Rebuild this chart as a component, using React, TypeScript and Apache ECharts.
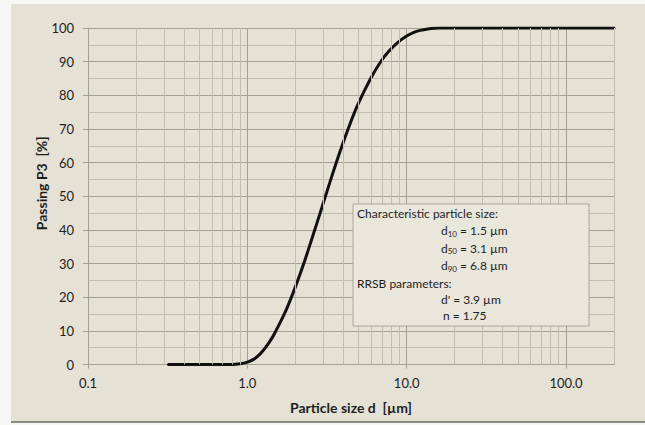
import React, { useEffect, useRef } from "react";
import * as echarts from "echarts";

// Particle size d [µm] and cumulative passing P3 [%]
const particleSizes = [0.32, 0.6, 0.8, 0.9, 1.0, 1.1, 1.2, 1.3, 1.43, 1.5, 1.69, 1.8, 2.0, 2.26, 2.55, 2.88, 3.1, 3.33, 3.85, 4.45, 5.0, 5.94, 6.85, 7.7, 8.73, 10, 11.1, 12.5, 14.2, 16, 20, 50, 100, 200];
const passing = [0, 0, 0, 0.2, 0.7, 1.6, 3.1, 5.0, 7.9, 9.7, 14.6, 17.5, 23.0, 30.0, 37.6, 45.4, 50.2, 54.8, 63.8, 72.0, 77.8, 85.0, 89.9, 93.0, 95.6, 97.6, 98.7, 99.4, 99.85, 100, 100, 100, 100, 100];

const xMin = 0.1;
const xMax = 200;
const yMin = 0;
const yMax = 100;
const yInterval = 10;

const titleLine = "Characteristic particle size:";
const charLines = [
  { sub: "10", value: "1.5 µm" },
  { sub: "50", value: "3.1 µm" },
  { sub: "90", value: "6.8 µm" },
];
const rrsbTitle = "RRSB parameters:";
const rrsbLines = ["d' = 3.9 µm", "n = 1.75"];

const FONT = "Lato, 'Open Sans', sans-serif";
const MAJOR = "#a4a094";
const MINOR = "#c0bcaf";
const TEXT = "#1e1e1e";

export default function App() {
  const ref = useRef<HTMLDivElement>(null);

  useEffect(() => {
    if (!ref.current) return;
    const chart = echarts.init(ref.current, undefined, { renderer: "svg" });

    // minor vertical grid positions: 2..9 × each decade within the axis range
    const minorX: number[] = [];
    for (let base = xMin; base < xMax; base *= 10) {
      for (let m = 2; m <= 9; m++) {
        const v = +(m * base).toPrecision(3);
        if (v <= xMax) minorX.push(v);
      }
    }

    const boxX = 353, boxY = 204, boxW = 236, boxH = 122;
    const textX = 357, indentX = 441;
    const lineYs = [213, 230.5, 248, 265.5, 283, 299.5, 315.5];

    const textStyle = { fontFamily: FONT, fontSize: 12, fill: TEXT };
    const graphics: any[] = [
      {
        type: "rect",
        z: 100,
        shape: { x: boxX, y: boxY, width: boxW, height: boxH },
        style: { fill: "#e9e6dc", stroke: "#aaa69a", lineWidth: 1 },
      },
      {
        type: "text",
        z: 101,
        style: { ...textStyle, text: titleLine, x: textX, y: lineYs[0], verticalAlign: "middle" },
      },
      ...charLines.map((l, i) => ({
        type: "text",
        z: 101,
        style: {
          ...textStyle,
          text: `d{s|${l.sub}} = ${l.value}`,
          x: indentX,
          y: lineYs[1 + i],
          verticalAlign: "middle",
          lineHeight: 14,
          rich: {
            s: { fontFamily: FONT, fontSize: 8, lineHeight: 6, verticalAlign: "bottom", fill: TEXT },
          },
        },
      })),
      {
        type: "text",
        z: 101,
        style: { ...textStyle, text: rrsbTitle, x: textX, y: lineYs[4], verticalAlign: "middle" },
      },
      ...rrsbLines.map((t, i) => ({
        type: "text",
        z: 101,
        style: { ...textStyle, text: t, x: indentX + (i === 1 ? 2 : 0), y: lineYs[5 + i], verticalAlign: "middle" },
      })),
    ];

    chart.setOption({
      animation: false,
      backgroundColor: "transparent",
      grid: { left: 88, right: 31, top: 28, bottom: 60.5, containLabel: false },
      xAxis: {
        type: "log",
        logBase: 10,
        min: xMin,
        max: xMax,
        name: "Particle size d  [µm]",
        nameLocation: "middle",
        nameGap: 36,
        nameMoveOverlap: false,
        nameTextStyle: { fontFamily: FONT, fontSize: 14, fontWeight: "bold", color: TEXT },
        axisLine: { show: true, lineStyle: { color: MAJOR, width: 1 } },
        axisTick: { show: true, length: 4, lineStyle: { color: MAJOR } },
        axisLabel: {
          fontFamily: FONT,
          fontSize: 13,
          color: TEXT,
          margin: 12,
          showMaxLabel: false,
          formatter: (v: number) => {
            const l = Math.log10(v);
            return Math.abs(l - Math.round(l)) < 1e-6 ? v.toFixed(1) : "";
          },
        },
        splitLine: { show: true, lineStyle: { color: MAJOR, width: 1 } },
      },
      yAxis: {
        type: "value",
        min: yMin,
        max: yMax,
        interval: yInterval,
        name: "Passing P3  [%]",
        nameLocation: "middle",
        nameGap: 40,
        nameMoveOverlap: false,
        nameTextStyle: { fontFamily: FONT, fontSize: 14, fontWeight: "bold", color: TEXT, padding: [0, 0, 0, 26] },
        axisLine: { show: true, lineStyle: { color: MAJOR, width: 1 } },
        axisTick: { show: true, length: 5, lineStyle: { color: MAJOR } },
        axisLabel: { fontFamily: FONT, fontSize: 13, color: TEXT, margin: 14 },
        splitLine: { show: true, lineStyle: { color: MAJOR, width: 1 } },
        minorTick: { show: false, splitNumber: 2 },
        minorSplitLine: { show: true, lineStyle: { color: MINOR, width: 1 } },
      },
      series: [
        {
          type: "line",
          z: 1,
          data: [],
          silent: true,
          markLine: {
            silent: true,
            symbol: "none",
            label: { show: false },
            lineStyle: { color: MINOR, width: 1, type: "solid" },
            data: minorX.map((v) => ({ xAxis: v })),
          },
        },
        {
          type: "line",
          z: 3,
          data: particleSizes.map((d, i) => [d, passing[i]]),
          smooth: 0.4,
          showSymbol: false,
          symbol: "none",
          lineStyle: { color: "#111", width: 3, join: "round", cap: "round" },
          silent: true,
        },
      ],
      graphic: graphics,
    });

    return () => chart.dispose();
  }, []);

  return (
    <div style={{ position: "absolute", left: 0, top: 0, width: 645, height: 425, background: "#f7f7f6", overflow: "hidden" }}>
      <div
        style={{
          position: "absolute",
          left: 11,
          top: 4,
          width: 634,
          height: 417,
          background: "#e5e1d5",
          borderBottom: "2px solid #8a8a86",
        }}
      />
      <div ref={ref} style={{ position: "absolute", left: 0, top: 0, width: 645, height: 425 }} />
    </div>
  );
}
